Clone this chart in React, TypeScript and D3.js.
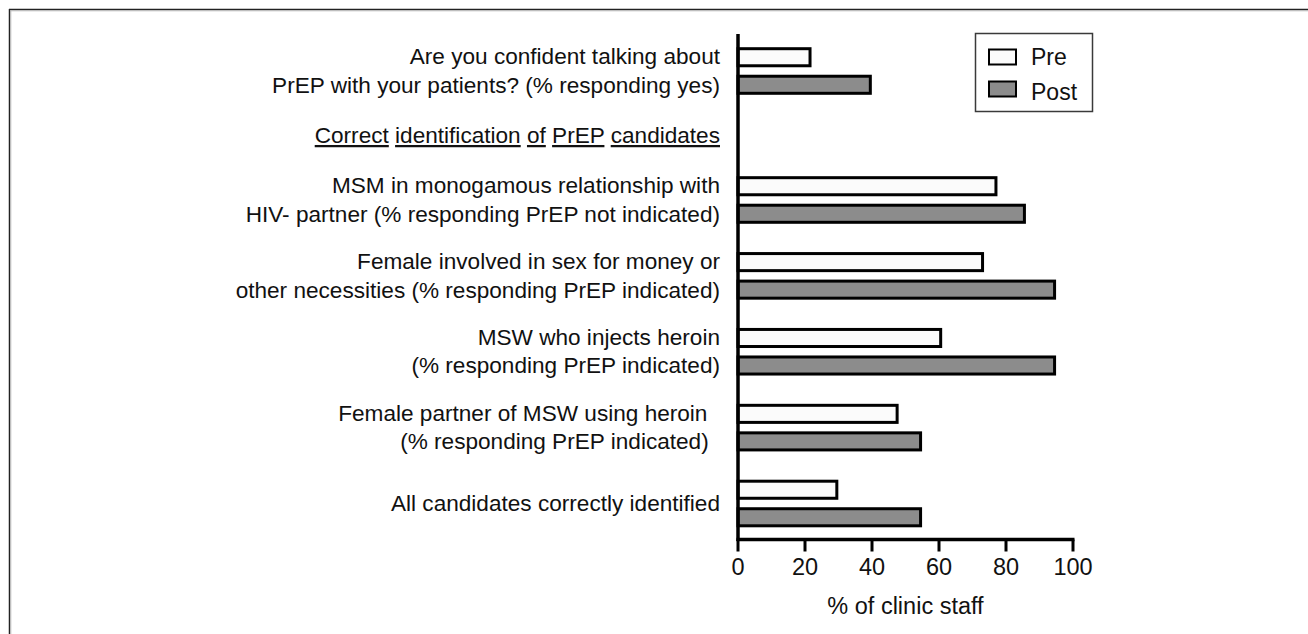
import React from "react";
import * as d3 from "d3";

// ---- data ----
const LABELS: string[][] = [
  ["Are you confident talking about", "PrEP with your patients? (% responding yes)"],
  ["Correct identification of PrEP candidates"],
  ["MSM in monogamous relationship with", "HIV- partner (% responding PrEP not indicated)"],
  ["Female involved in sex for money or", "other necessities (% responding PrEP indicated)"],
  ["MSW who injects heroin", "(% responding PrEP indicated)"],
  ["Female partner of MSW using heroin\u00a0\u00a0", "(% responding PrEP indicated)\u2002"],
  ["All candidates correctly identified"],
];
const IS_HEADER = [false, true, false, false, false, false, false];
const PRE: (number | null)[] = [21.5, null, 77, 73, 60.5, 47.5, 29.5];
const POST: (number | null)[] = [39.5, null, 85.5, 94.5, 94.5, 54.5, 54.5];
const SERIES = ["Pre", "Post"];
const X_TICKS = [0, 20, 40, 60, 80, 100];
const X_TITLE = "% of clinic staff";

// ---- layout ----
const ROW_GAPS = [0, 0.85, 0.85, 1, 1, 1, 1];
const FONT = "'Liberation Sans', Arial, Helvetica, sans-serif";
const COLORS: Record<string, string> = { Pre: "#fbfbfb", Post: "#8c8c8c" };

export default function App() {
  const rowPos = Array.from(d3.cumsum(ROW_GAPS));
  const y = d3.scaleLinear().domain([0, rowPos[rowPos.length - 1]]).range([71, 503.5]);
  const x = d3.scaleLinear().domain([0, 100]).range([738, 1073]);
  const inner = d3.scaleBand().domain(SERIES).range([-22.3, 22.3]).paddingInner(0.38);
  const axisY = 539.5;
  const labelX = 720;
  const lineH = 28.5;
  const fs = 22.6;

  return (
    <svg
      width={1308}
      height={634}
      style={{ position: "absolute", left: 0, top: 0, display: "block", background: "#fff" }}
      fontFamily={FONT}
    >
      {/* frame */}
      <line x1={9} x2={1308} y1={9.5} y2={9.5} stroke="#222" strokeWidth={1.5} />
      <line x1={9} x2={1308} y1={10.8} y2={10.8} stroke="#bbb" strokeWidth={1} />
      <line x1={9.5} x2={9.5} y1={9} y2={634} stroke="#222" strokeWidth={1.5} />
      <line x1={10.8} x2={10.8} y1={10} y2={634} stroke="#bbb" strokeWidth={1} />

      {/* labels */}
      {LABELS.map((lines, i) => {
        const c = y(rowPos[i]);
        const n = lines.length;
        return lines.map((ln, j) => {
          const by = c + 7.5 + (j - (n - 1) / 2) * lineH;
          if (IS_HEADER[i]) {
            const words = ln.split(" ");
            return (
              <text key={`l${i}-${j}`} x={labelX} y={by} textAnchor="end" fontSize={fs} fill="#111" style={{ whiteSpace: "pre" }}>
                {words.map((w, k) => (
                  <React.Fragment key={k}>
                    <tspan textDecoration="underline" style={{ textDecoration: "underline" }}>{w}</tspan>
                    {k < words.length - 1 ? <tspan>{" "}</tspan> : null}
                  </React.Fragment>
                ))}
              </text>
            );
          }
          return (
            <text key={`l${i}-${j}`} x={labelX} y={by} textAnchor="end" fontSize={fs} fill="#111">
              {ln}
            </text>
          );
        });
      })}

      {/* bars */}
      {LABELS.map((_, i) => {
        const c = y(rowPos[i]);
        return SERIES.map((s) => {
          const v = s === "Pre" ? PRE[i] : POST[i];
          if (v == null) return null;
          return (
            <rect
              key={`b${i}-${s}`}
              x={x(0)}
              y={c + (inner(s) as number)}
              width={x(v) - x(0)}
              height={inner.bandwidth()}
              fill={COLORS[s]}
              stroke="#000"
              strokeWidth={3}
            />
          );
        });
      })}

      {/* y axis line */}
      <line x1={x(0)} x2={x(0)} y1={34} y2={axisY + 1.5} stroke="#000" strokeWidth={3.5} />

      {/* x axis */}
      <line x1={x(0) - 1.5} x2={x(100) + 1.5} y1={axisY} y2={axisY} stroke="#000" strokeWidth={3.5} />
      {X_TICKS.map((t) => (
        <g key={t}>
          <line x1={x(t)} x2={x(t)} y1={axisY} y2={axisY + 12} stroke="#000" strokeWidth={3} />
          <text x={x(t)} y={575} textAnchor="middle" fontSize={23.5} fill="#111">
            {t}
          </text>
        </g>
      ))}
      <text x={(x(0) + x(100)) / 2} y={614} textAnchor="middle" fontSize={23.5} fill="#111">
        {X_TITLE}
      </text>

      {/* legend */}
      <rect x={975.5} y={33.5} width={117} height={78} fill="#fff" stroke="#3a3a3a" strokeWidth={1.5} />
      {SERIES.map((s, k) => (
        <g key={s}>
          <rect x={989} y={49.5 + k * 32} width={27} height={15} fill={COLORS[s]} stroke="#000" strokeWidth={2} />
          <text x={1031} y={65 + k * 35} fontSize={23} fill="#111">
            {s}
          </text>
        </g>
      ))}
    </svg>
  );
}
